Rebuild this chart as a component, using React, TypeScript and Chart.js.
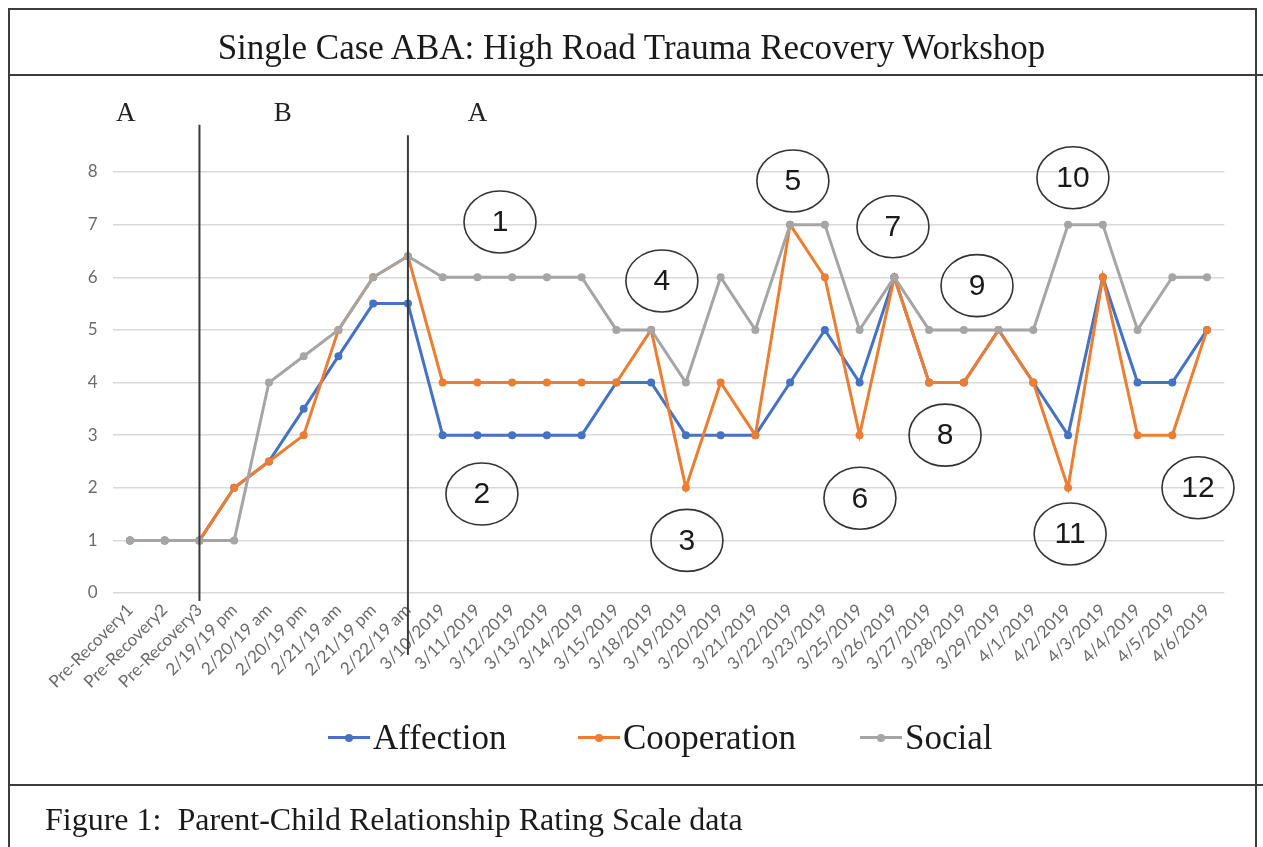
import React, { useEffect, useRef } from "react";
import { Chart, registerables } from "chart.js";

Chart.register(...registerables);

const categories = [
  "Pre-Recovery1", "Pre-Recovery2", "Pre-Recovery3", "2/19/19 pm", "2/20/19 am", "2/20/19 pm",
  "2/21/19 am", "2/21/19 pm", "2/22/19 am", "3/10/2019", "3/11/2019", "3/12/2019", "3/13/2019",
  "3/14/2019", "3/15/2019", "3/18/2019", "3/19/2019", "3/20/2019", "3/21/2019", "3/22/2019",
  "3/23/2019", "3/25/2019", "3/26/2019", "3/27/2019", "3/28/2019", "3/29/2019", "4/1/2019",
  "4/2/2019", "4/3/2019", "4/4/2019", "4/5/2019", "4/6/2019",
];

const affection = [1, 1, 1, 2, 2.5, 3.5, 4.5, 5.5, 5.5, 3, 3, 3, 3, 3, 4, 4, 3, 3, 3, 4, 5, 4, 6, 4, 4, 5, 4, 3, 6, 4, 4, 5];
const cooperation = [1, 1, 1, 2, 2.5, 3, 5, 6, 6.4, 4, 4, 4, 4, 4, 4, 5, 2, 4, 3, 7, 6, 3, 6, 4, 4, 5, 4, 2, 6, 3, 3, 5];
const social = [1, 1, 1, 1, 4, 4.5, 5, 6, 6.4, 6, 6, 6, 6, 6, 5, 5, 4, 6, 5, 7, 7, 5, 6, 5, 5, 5, 5, 7, 7, 5, 6, 6];

const yTicks = [0, 1, 2, 3, 4, 5, 6, 7, 8];

const seriesNames = ["Affection", "Cooperation", "Social"];
const seriesColors = ["#4472C4", "#ED7D31", "#A5A5A5"];

// phase markers (category index positions)
const phaseLines = [2, 8];
const phaseLabels = ["A", "B", "A"];
const phaseLabelIdx = [-0.12, 4.4, 10.0];

// circled annotation numbers, in data coordinates (category index, value)
const noteLabels = ["1", "2", "3", "4", "5", "6", "7", "8", "9", "10", "11", "12"];
const noteIdx = [10.65, 10.13, 16.03, 15.31, 19.08, 21.01, 21.96, 23.46, 24.38, 27.14, 27.06, 30.74];
const noteVal = [7.05, 1.88, 1.0, 5.93, 7.83, 1.8, 6.96, 3.0, 5.84, 7.89, 1.12, 2.0];

const overlayPlugin = {
  id: "overlay",
  afterDatasetsDraw(chart: any) {
    const { ctx, scales } = chart;
    const xs = scales.x;
    const ys = scales.y;
    ctx.save();
    // phase divider lines
    ctx.strokeStyle = "#3a3a3a";
    ctx.lineWidth = 2;
    const lineTops = [8.9, 8.7];
    const lineBottoms = [-0.15, -1.18];
    phaseLines.forEach((idx, i) => {
      const x = xs.getPixelForValue(idx);
      ctx.beginPath();
      ctx.moveTo(x, ys.getPixelForValue(lineTops[i]));
      ctx.lineTo(x, ys.getPixelForValue(lineBottoms[i]));
      ctx.stroke();
    });
    // phase letters
    ctx.fillStyle = "#222";
    ctx.font = "27px 'Liberation Serif', serif";
    ctx.textAlign = "center";
    ctx.textBaseline = "middle";
    phaseLabels.forEach((t, i) => {
      ctx.fillText(t, xs.getPixelForValue(phaseLabelIdx[i]), ys.getPixelForValue(9.1));
    });
    // circled notes
    ctx.font = "30px 'Liberation Sans', Arial, sans-serif";
    ctx.lineWidth = 1.6;
    ctx.strokeStyle = "#333";
    noteLabels.forEach((t, i) => {
      const x = xs.getPixelForValue(noteIdx[i]);
      const y = ys.getPixelForValue(noteVal[i]);
      ctx.beginPath();
      ctx.ellipse(x, y, 36, 31, 0, 0, Math.PI * 2);
      ctx.stroke();
      ctx.fillStyle = "#1a1a1a";
      ctx.fillText(t, x, y + 1);
    });
    ctx.restore();
  },
};

export default function App() {
  const ref = useRef<HTMLCanvasElement>(null);

  useEffect(() => {
    const data = [affection, cooperation, social];
    const chart = new Chart(ref.current as HTMLCanvasElement, {
      type: "line",
      data: {
        labels: categories,
        datasets: data.map((d, i) => ({
          label: seriesNames[i],
          data: d,
          borderColor: seriesColors[i],
          backgroundColor: seriesColors[i],
          borderWidth: 3,
          pointRadius: 4,
          pointBorderWidth: 0,
          pointBackgroundColor: seriesColors[i],
          tension: 0,
          order: 3 - i,
        })),
      },
      options: {
        animation: false,
        responsive: false,
        maintainAspectRatio: false,
        layout: { padding: { top: 172, right: 38.6, bottom: 144, left: 0 } },
        plugins: {
          legend: { display: false },
          title: { display: false },
          tooltip: { enabled: false },
        },
        scales: {
          x: {
            offset: true,
            grid: { display: false, drawTicks: false },
            border: { display: false },
            ticks: {
              autoSkip: false,
              minRotation: 45,
              maxRotation: 45,
              color: "#6b6b6b",
              font: { family: "Lato", size: 17 },
              padding: 7,
            },
            afterFit: (s: any) => {
              s.height = 110;
            },
          },
          y: {
            min: yTicks[0],
            max: yTicks[yTicks.length - 1],
            afterBuildTicks: (s: any) => {
              s.ticks = yTicks.map((v) => ({ value: v }));
            },
            grid: { color: "#d9d9d9", lineWidth: 1.5, drawTicks: false },
            border: { display: false },
            ticks: {
              color: "#6b6b6b",
              font: { family: "Lato", size: 17 },
              padding: 15,
            },
            afterFit: (s: any) => {
              s.width = 112.6;
            },
          },
        },
      },
      plugins: [overlayPlugin],
    });
    return () => chart.destroy();
  }, []);

  const serif = "'Liberation Serif', 'Times New Roman', serif";
  const legendLeft = [328, 578, 860];

  return (
    <div
      style={{
        position: "fixed",
        left: 0,
        top: 0,
        width: 1263,
        height: 847,
        background: "#fff",
        overflow: "hidden",
      }}
    >
      <canvas ref={ref} width={1263} height={847} style={{ position: "absolute", left: 0, top: 0, width: 1263, height: 847 }} />
      {/* frame */}
      <div style={{ position: "absolute", left: 8, top: 8, width: 1249, height: 900, border: "2px solid #3c3c3c", boxSizing: "border-box" }} />
      <div style={{ position: "absolute", left: 8, top: 74, width: 1255, height: 2, background: "#3c3c3c" }} />
      <div style={{ position: "absolute", left: 8, top: 784, width: 1255, height: 2, background: "#3c3c3c" }} />
      {/* title */}
      <div
        style={{
          position: "absolute",
          left: 0,
          top: 30,
          width: 1263,
          textAlign: "center",
          fontFamily: serif,
          fontSize: 35,
          lineHeight: "35px",
          color: "#1a1a1a",
          whiteSpace: "nowrap",
        }}
      >
        Single Case ABA: High Road Trauma Recovery Workshop
      </div>
      {/* legend */}
      {seriesNames.map((n, i) => (
        <div
          key={n}
          style={{
            position: "absolute",
            left: legendLeft[i],
            top: 720,
            display: "flex",
            alignItems: "center",
            height: 35,
            fontFamily: serif,
            fontSize: 35,
            lineHeight: "35px",
            color: "#1a1a1a",
            whiteSpace: "nowrap",
          }}
        >
          <span style={{ position: "relative", display: "inline-block", width: 42, height: 3, background: seriesColors[i], marginRight: 3 }}>
            <span
              style={{
                position: "absolute",
                left: 17,
                top: -2.5,
                width: 8,
                height: 8,
                borderRadius: 4,
                background: seriesColors[i],
              }}
            />
          </span>
          {n}
        </div>
      ))}
      {/* caption */}
      <div
        style={{
          position: "absolute",
          left: 45,
          top: 803,
          fontFamily: serif,
          fontSize: 32,
          lineHeight: "32px",
          color: "#1a1a1a",
          whiteSpace: "pre",
        }}
      >
        {"Figure 1:  Parent-Child Relationship Rating Scale data"}
      </div>
    </div>
  );
}
